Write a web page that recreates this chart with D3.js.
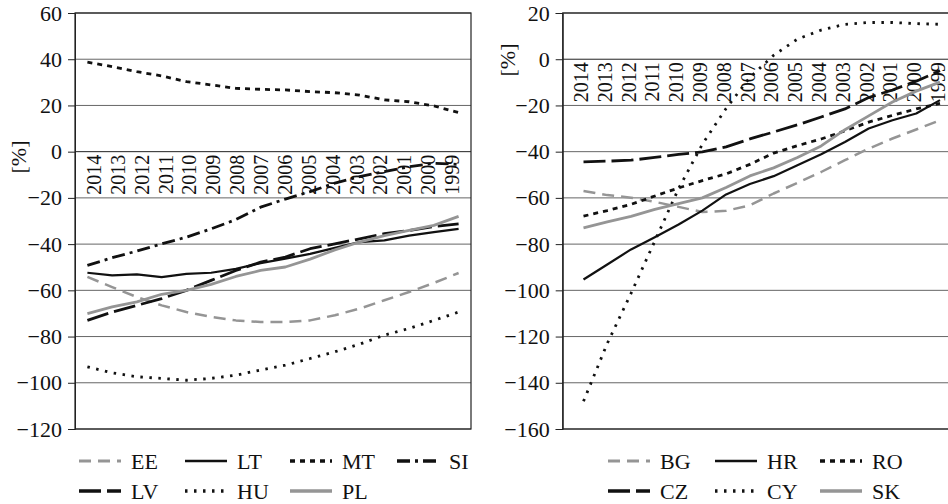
<!DOCTYPE html>
<html><head><meta charset="utf-8">
<script src="https://cdn.jsdelivr.net/npm/d3@7"></script>
<style>
html,body{margin:0;padding:0;background:#fff;}
svg{display:block;}
</style></head>
<body>
<svg id="c" width="948" height="504"></svg>
<script>
const years = ["2014","2013","2012","2011","2010","2009","2008","2007","2006","2005","2004","2003","2002","2001","2000","1999"];

// Left panel
const leftTicks = [60,40,20,0,-20,-40,-60,-80,-100,-120];
const EE = [-54.2,-58.6,-62.9,-66.5,-69.4,-71.5,-73,-73.7,-73.7,-73,-70.8,-67.9,-64.3,-60.7,-56.8,-52.5];
const LT = [-52.4,-53.5,-53.1,-54.3,-52.9,-52.4,-50.7,-48.2,-46.3,-44.2,-41.6,-39.1,-38.4,-36.3,-34.8,-33.4];
const MT = [38.7,36.8,34.6,32.8,30.3,28.9,27.4,27,26.7,26,25.5,24.5,22.4,21.6,19.8,16.9];
const SI = [-49.2,-45.9,-43,-39.9,-37,-33.4,-29.4,-24,-20.5,-17.3,-13.6,-10.8,-8.6,-6.5,-5,-5.5];
const LV = [-73,-69.4,-66.5,-63.6,-60,-55.7,-51.4,-47.8,-45.6,-42,-39.9,-37.7,-35.5,-34.1,-32.4,-31.2];
const HU = [-93.1,-95.7,-97.4,-98.1,-98.9,-98.1,-96.7,-94.5,-92.4,-89.5,-86.6,-83.3,-79.4,-76.5,-73,-69.4];
const PL = [-70.1,-67.2,-65,-61.7,-60,-57.4,-54,-51.4,-49.9,-46.5,-42.5,-39.1,-36.3,-34.1,-31.9,-28];

// Right panel
const rightTicks = [20,0,-20,-40,-60,-80,-100,-120,-140,-160];
const BG = [-57,-58.8,-59.9,-61.7,-63.9,-66.1,-65.6,-63.2,-58.1,-53.5,-48.8,-43.7,-38.7,-34.3,-30.4,-26.4];
const HR = [-95.3,-88.8,-82.3,-77,-71.5,-65.5,-58.5,-54,-50.6,-45.9,-41.1,-35.8,-30,-26.4,-23.5,-17.7];
const RO = [-67.9,-65.5,-62.8,-59.2,-55.7,-52.5,-49.6,-45.5,-40.6,-37.4,-34.5,-31,-27.2,-24.3,-21.5,-19.1];
const CZ = [-44.4,-44.1,-43.7,-42.5,-41.2,-40.1,-37.9,-34.5,-31.5,-28.4,-25,-21.5,-16.6,-13.3,-9.5,-5];
const CY = [-148,-123,-101.3,-78.7,-56,-36.8,-21.3,-7.9,1.7,8.7,12.6,15.1,15.9,15.9,15.4,15.1];
const SK = [-73,-70.4,-68,-65,-62.5,-60,-55.5,-50.5,-47,-42.5,-37.5,-30.5,-24.5,-18.5,-13.8,-9.9];

const GRAY = "#959595";
const styles = {
  EE:{color:GRAY,dash:"12,7",w:2.5},
  LT:{color:"#111",dash:null,w:2.2},
  MT:{color:"#111",dash:"5,5",w:2.8},
  SI:{color:"#111",dash:"13,5,3,5",w:2.8},
  LV:{color:"#111",dash:"22,6",w:2.8},
  HU:{color:"#111",dash:"2.5,6.5",w:2.8},
  PL:{color:GRAY,dash:null,w:2.8},
  BG:{color:GRAY,dash:"12,7",w:2.5},
  HR:{color:"#111",dash:null,w:2.2},
  RO:{color:"#111",dash:"5,5",w:2.8},
  CZ:{color:"#111",dash:"22,6",w:2.8},
  CY:{color:"#111",dash:"2.5,6.5",w:2.8},
  SK:{color:GRAY,dash:null,w:2.8}
};

const FONT = '"Liberation Serif"';
const svg = d3.select("#c");

function panel(cfg){
  const g = svg.append("g");
  const y = d3.scaleLinear().domain(cfg.domain).range([429,13]);
  const x = d3.scalePoint().domain(years).range(cfg.pointRange);
  const xl = d3.scalePoint().domain(years).range(cfg.labelRange);

  g.selectAll("line.grid").data(cfg.ticks).join("line")
    .attr("x1",cfg.frame[0]).attr("x2",cfg.frame[1])
    .attr("y1",d=>y(d)).attr("y2",d=>y(d))
    .attr("stroke",d=>d===0?"#222":"#666").attr("stroke-width",1);
  g.append("rect").attr("x",cfg.frame[0]).attr("y",y(cfg.domain[1]))
    .attr("width",cfg.frame[1]-cfg.frame[0]).attr("height",y(cfg.domain[0])-y(cfg.domain[1]))
    .attr("fill","none").attr("stroke","#222").attr("stroke-width",1.2);

  const ax = g.append("g").attr("transform",`translate(${cfg.frame[0]},0)`)
    .call(d3.axisLeft(y).tickValues(cfg.ticks).tickSize(7).tickPadding(6));
  ax.attr("font-family",null).attr("font-size",null);
  ax.select(".domain").attr("stroke","#222");
  ax.selectAll(".tick line").attr("stroke","#222");
  ax.selectAll("text").style("font-family",FONT).style("font-size","22px").attr("fill","#111");

  g.append("text").attr("transform",`translate(${cfg.ylabX},${cfg.ylabY}) rotate(-90)`)
    .attr("text-anchor","middle").attr("dy","0.35em")
    .style("font-family",FONT).style("font-size","22px").attr("fill","#111").text("[%]");

  g.selectAll("text.yr").data(years).join("text")
    .attr("transform",d=>`translate(${xl(d)},${y(0)+3}) rotate(-90)`)
    .attr("text-anchor","end").attr("dy","0.35em")
    .style("font-family",FONT).style("font-size","20px").attr("fill","#111").text(d=>d);

  const line = d3.line().x((d,i)=>x(years[i])).y(d=>y(d));
  cfg.series.forEach(s=>{
    const st = styles[s.name];
    g.append("path").datum(s.values).attr("d",line)
      .attr("fill","none").attr("stroke",st.color).attr("stroke-width",st.w)
      .attr("stroke-dasharray",st.dash).attr("stroke-linejoin","round");
  });

  cfg.legend.forEach((row,ri)=>{
    row.forEach((name,ci)=>{
      const st = styles[name];
      const lx = cfg.legX[ci], ly = cfg.legY[ri];
      g.append("line").attr("x1",lx).attr("x2",lx+42).attr("y1",ly).attr("y2",ly)
        .attr("stroke",st.color).attr("stroke-width",st.w+0.5).attr("stroke-dasharray",st.dash);
      g.append("text").attr("x",lx+52).attr("y",ly).attr("dy","0.35em")
        .style("font-family",FONT).style("font-size","22px").attr("fill","#111").text(name);
    });
  });
}

panel({
  domain:[-120,60], ticks:leftTicks, frame:[75,471],
  pointRange:[87.4,458.6], labelRange:[94,452],
  ylabX:18, ylabY:157,
  series:[{name:"EE",values:EE},{name:"LT",values:LT},{name:"MT",values:MT},{name:"SI",values:SI},
          {name:"LV",values:LV},{name:"HU",values:HU},{name:"PL",values:PL}],
  legend:[["EE","LT","MT","SI"],["LV","HU","PL"]],
  legX:[79,185,290,397], legY:[461,491]
});

panel({
  domain:[-160,20], ticks:rightTicks, frame:[562.7,962],
  pointRange:[583.5,940], labelRange:[581,938],
  ylabX:507, ylabY:60,
  series:[{name:"BG",values:BG},{name:"HR",values:HR},{name:"RO",values:RO},
          {name:"CZ",values:CZ},{name:"CY",values:CY},{name:"SK",values:SK}],
  legend:[["BG","HR","RO"],["CZ","CY","SK"]],
  legX:[608,715,820], legY:[461,491]
});
</script>
</body></html>
